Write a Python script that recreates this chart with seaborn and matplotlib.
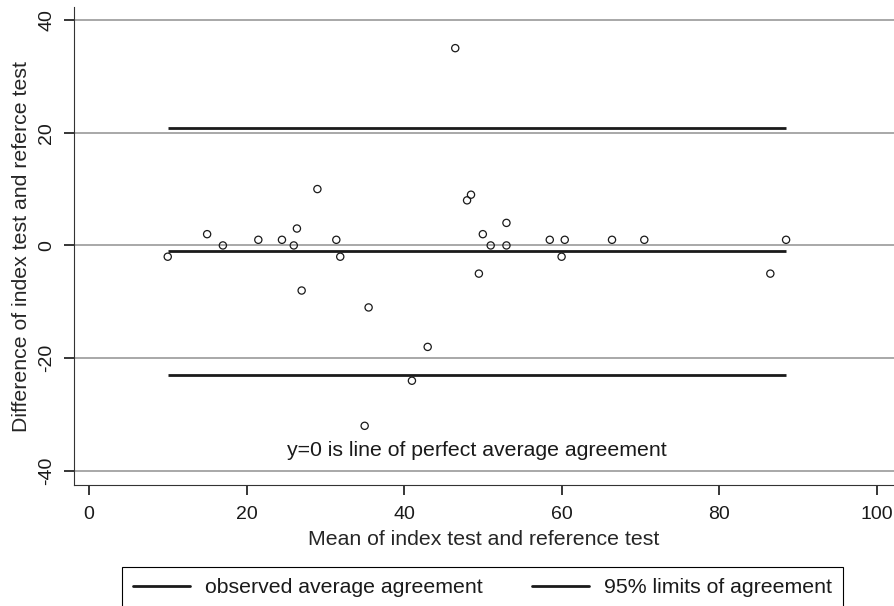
import numpy as np
import pandas as pd
import matplotlib
matplotlib.use("Agg")
import matplotlib.pyplot as plt
import seaborn as sns
from matplotlib.lines import Line2D

# Bland-Altman data: mean and difference of index test and reference test
mean_scores = [10, 15, 17, 21.5, 24.5, 26, 26.4, 29, 31.4, 31.9,
               46.5, 48.5, 48, 53, 50, 51, 53, 58.5, 60.4, 66.4, 70.5, 88.5,
               49.5, 60, 86.5, 27, 35.5, 43, 41, 35]
diff_scores = [-2, 2, 0, 1, 1, 0, 3, 10, 1, -2,
               35, 9, 8, 4, 2, 0, 0, 1, 1, 1, 1, 1,
               -5, -2, -5, -8, -11, -18, -24, -32]
bias = -0.9
limits = [20.9, -22.9]
x_ticks = [0, 20, 40, 60, 80, 100]
y_ticks = [-40, -20, 0, 20, 40]
legend_labels = ["observed average agreement", "95% limits of agreement"]

df = pd.DataFrame({"mean": mean_scores, "diff": diff_scores})

sns.set_theme(style="white")
plt.rcParams["font.family"] = ["Liberation Sans", "DejaVu Sans"]
plt.rcParams["text.color"] = "#1a1a1a"

TEXT_SIZE = 15.3
TICK_SIZE = 14

W, H = 894, 606
fig = plt.figure(figsize=(W / 100, H / 100), dpi=100)
ax = fig.add_axes([74 / W, 1 - 485 / H, 1 - 74 / W, (485 - 7) / H])

line_color = "#1a1a1a"
x0, x1 = min(mean_scores), max(mean_scores)
ax.hlines(limits, x0, x1, color=line_color, lw=2.0, zorder=3)
ax.hlines(bias, x0, x1, color=line_color, lw=2.0, zorder=3)

sns.scatterplot(data=df, x="mean", y="diff", ax=ax, marker="o", s=27,
                facecolor="none", edgecolor="#1a1a1a", linewidth=0.9, zorder=4)

ax.text((x0 + x1) / 2, -36.4, "y=0 is line of perfect average agreement",
        ha="center", va="center", fontsize=TEXT_SIZE, color="#1a1a1a")

ax.set_xlim(-1.9, 102.2)
ax.set_ylim(-42.5, 42.3)
ax.set_xticks(x_ticks)
ax.set_yticks(y_ticks)
ax.set_yticklabels([str(v) for v in y_ticks], rotation=90, va="center")

ax.yaxis.grid(True, color="#9a9a9a", lw=1.2)
ax.xaxis.grid(False)
ax.set_axisbelow(True)

for side in ["top", "right"]:
    ax.spines[side].set_visible(False)
for side in ["left", "bottom"]:
    ax.spines[side].set_color("#333333")
    ax.spines[side].set_linewidth(0.8)

ax.tick_params(axis="both", which="major", direction="out", length=7.5,
               width=1.1, color="black", labelsize=TICK_SIZE,
               labelcolor="#1a1a1a", left=True, bottom=True)
ax.tick_params(axis="y", pad=6)
ax.tick_params(axis="x", pad=7.5)

ax.set_xlabel("Mean of index test and reference test", fontsize=TEXT_SIZE,
              labelpad=5)
ax.set_ylabel("Difference of index test and referce test", fontsize=TEXT_SIZE,
              labelpad=5.5)

handles = [Line2D([], [], color=line_color, lw=2.0),
           Line2D([], [], color=line_color, lw=2.0)]
leg = fig.legend(handles, legend_labels, loc="upper left",
                 bbox_to_anchor=(122 / W, 0, (843 - 122) / W, 1 - 567 / H),
                 mode="expand", ncol=2, frameon=True, fancybox=False,
                 edgecolor="black", handlelength=2.7, handletextpad=0.7,
                 borderpad=0.52, borderaxespad=0, fontsize=TEXT_SIZE)
leg.get_frame().set_linewidth(0.8)
leg.get_frame().set_alpha(1)

fig.savefig("out.png", dpi=100)
